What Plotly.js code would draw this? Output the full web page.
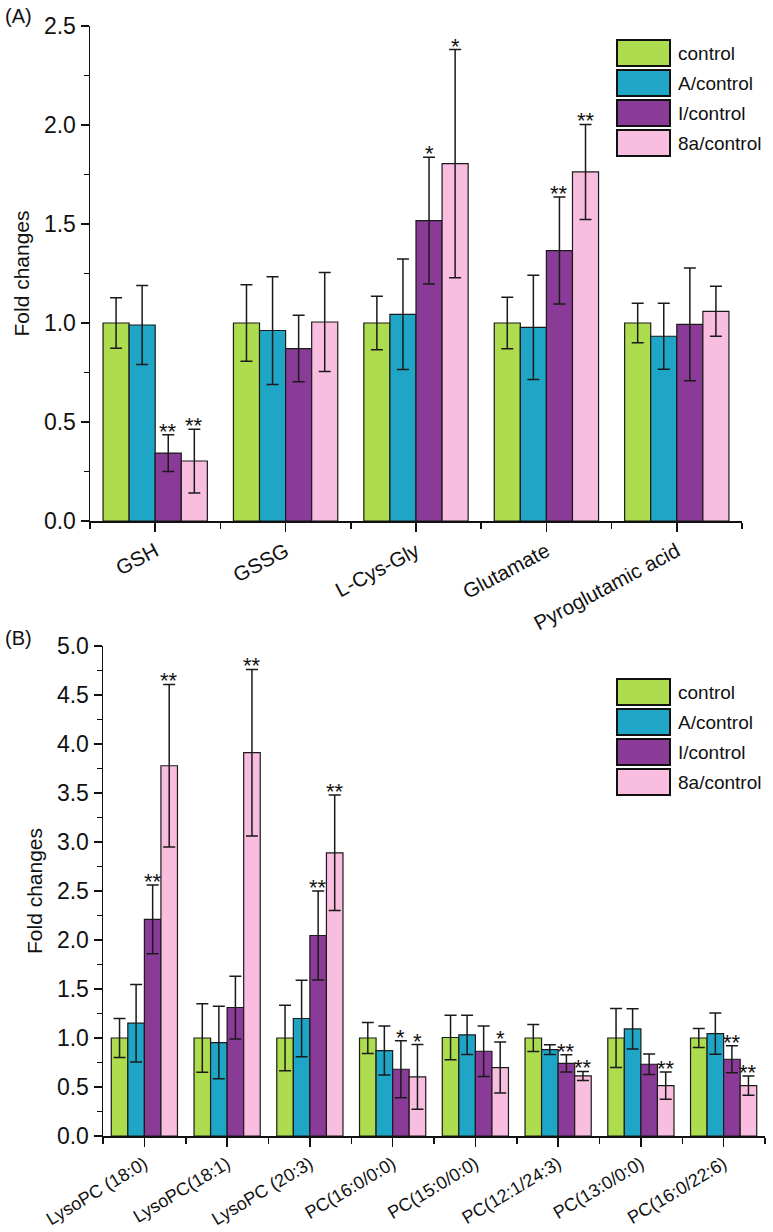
<!DOCTYPE html>
<html>
<head>
<meta charset="utf-8">
<script src="https://cdn.plot.ly/plotly-3.0.1.min.js"></script>
<style>html,body{margin:0;padding:0;background:#fff;}#chart{width:773px;height:1232px;}</style>
</head>
<body>
<div id="chart"></div>
<script>
// ---------- DATA ----------
const seriesNames = ['control', 'A/control', 'I/control', '8a/control'];
const seriesColors = ['#aedc4f', '#1fa6c6', '#8a3a97', '#f9bedf'];

const categoriesA = ['GSH', 'GSSG', 'L-Cys-Gly', 'Glutamate', 'Pyroglutamic acid'];
const controlA = [1.0, 1.0, 1.0, 1.0, 1.0];
const controlAErr = [0.127, 0.193, 0.135, 0.13, 0.1];
const aControlA = [0.99, 0.962, 1.044, 0.978, 0.933];
const aControlAErr = [0.2, 0.272, 0.279, 0.263, 0.167];
const iControlA = [0.343, 0.871, 1.517, 1.366, 0.993];
const iControlAErr = [0.093, 0.168, 0.32, 0.27, 0.285];
const e8aControlA = [0.303, 1.005, 1.805, 1.763, 1.059];
const e8aControlAErr = [0.161, 0.25, 0.576, 0.24, 0.126];
const starsIA = ['**', '', '*', '**', ''];
const stars8aA = ['**', '', '*', '**', ''];

const categoriesB = ['LysoPC (18:0)', 'LysoPC(18:1)', 'LysoPC (20:3)', 'PC(16:0/0:0)', 'PC(15:0/0:0)', 'PC(12:1/24:3)', 'PC(13:0/0:0)', 'PC(16:0/22:6)'];
const controlB = [1.0, 1.0, 1.0, 1.0, 1.005, 1.0, 1.0, 1.0];
const controlBErr = [0.2, 0.35, 0.335, 0.157, 0.228, 0.138, 0.3, 0.097];
const aControlB = [1.151, 0.953, 1.199, 0.872, 1.031, 0.882, 1.093, 1.045];
const aControlBErr = [0.395, 0.37, 0.39, 0.25, 0.2, 0.05, 0.206, 0.21];
const iControlB = [2.21, 1.311, 2.046, 0.681, 0.865, 0.742, 0.732, 0.783];
const iControlBErr = [0.35, 0.32, 0.455, 0.29, 0.257, 0.088, 0.105, 0.138];
const e8aControlB = [3.778, 3.911, 2.89, 0.603, 0.698, 0.613, 0.514, 0.514];
const e8aControlBErr = [0.83, 0.85, 0.59, 0.33, 0.26, 0.046, 0.14, 0.097];
const starsIB = ['**', '', '**', '*', '', '**', '', '**'];
const stars8aB = ['**', '**', '**', '*', '*', '**', '**', '**'];

// ---------- BUILD ----------
const W = 773, H = 1232;
const FONT = 'Arial, "Liberation Sans", sans-serif';
const BARGAP = 0.2;

function panelTraces(cats, vals, errs, xa, ya) {
  const idx = cats.map((_, i) => i);
  return vals.map((v, k) => ({
    type: 'bar', x: idx, y: v, name: seriesNames[k], xaxis: xa, yaxis: ya,
    marker: {color: seriesColors[k], line: {color: '#1a1a1a', width: 1.2}},
    error_y: {type: 'data', array: errs[k], visible: true, color: '#1a1a1a', thickness: 1.5, width: 6},
    showlegend: false, hoverinfo: 'skip'
  }));
}

const tracesA = panelTraces(categoriesA,
  [controlA, aControlA, iControlA, e8aControlA],
  [controlAErr, aControlAErr, iControlAErr, e8aControlAErr], 'x', 'y');
const tracesB = panelTraces(categoriesB,
  [controlB, aControlB, iControlB, e8aControlB],
  [controlBErr, aControlBErr, iControlBErr, e8aControlBErr], 'x2', 'y2');

function starAnnots(stars, vals, errs, k, xref, yref) {
  const n = seriesNames.length;
  const off = (k - (n - 1) / 2) * (1 - BARGAP) / n;
  const out = [];
  stars.forEach((s, i) => {
    if (!s) return;
    out.push({x: i + off, y: vals[i] + errs[i], xref: xref, yref: yref, text: s, showarrow: false,
      xanchor: 'center', yanchor: 'bottom', yshift: -11, font: {family: FONT, size: 22, color: '#111'}});
  });
  return out;
}

const annotations = [].concat(
  starAnnots(starsIA, iControlA, iControlAErr, 2, 'x', 'y'),
  starAnnots(stars8aA, e8aControlA, e8aControlAErr, 3, 'x', 'y'),
  starAnnots(starsIB, iControlB, iControlBErr, 2, 'x2', 'y2'),
  starAnnots(stars8aB, e8aControlB, e8aControlBErr, 3, 'x2', 'y2')
);

// panel labels
annotations.push({x: 3 / W, y: 1 - 3 / H, xref: 'paper', yref: 'paper', text: '(A)', showarrow: false,
  xanchor: 'left', yanchor: 'top', font: {family: FONT, size: 20, color: '#111'}});
annotations.push({x: 3 / W, y: 1 - 625 / H, xref: 'paper', yref: 'paper', text: '(B)', showarrow: false,
  xanchor: 'left', yanchor: 'top', font: {family: FONT, size: 20, color: '#111'}});

// custom legends
const shapes = [];
function addLegend(topPx) {
  seriesNames.forEach((nm, k) => {
    const y0 = topPx + k * 30, y1 = y0 + 26;
    shapes.push({type: 'rect', xref: 'paper', yref: 'paper', x0: 617 / W, x1: 670 / W,
      y0: 1 - y1 / H, y1: 1 - y0 / H, fillcolor: seriesColors[k], line: {color: '#111', width: 2}});
    annotations.push({x: 676 / W, y: 1 - (y0 + 13) / H, xref: 'paper', yref: 'paper', text: nm,
      showarrow: false, xanchor: 'left', yanchor: 'middle', font: {family: FONT, size: 19, color: '#111'}});
  });
}
addLegend(40);
addLegend(679);

function xAxis(cats, domain, anchor, angle, fsize) {
  const idx = cats.map((_, i) => i);
  const bounds = [];
  for (let i = 0; i <= cats.length; i++) bounds.push(i - 0.5);
  return {
    domain: domain, anchor: anchor, range: [-0.5, cats.length - 0.5],
    tickmode: 'array', tickvals: idx, ticktext: cats, tickangle: angle,
    ticks: 'outside', ticklen: 9, tickwidth: 1.5, tickcolor: '#111',
    minor: {tickmode: 'array', tickvals: bounds, ticks: 'outside', ticklen: 6, tickwidth: 1.5, tickcolor: '#111'},
    showline: true, linecolor: '#111', linewidth: 1.5, showgrid: false, zeroline: false,
    tickfont: {family: FONT, size: fsize, color: '#111'}, fixedrange: true
  };
}
function yAxis(range, dtick, domain, anchor) {
  return {
    domain: domain, anchor: anchor, range: range, dtick: dtick, tickformat: '.1f',
    ticks: 'outside', ticklen: 8, tickwidth: 1.5, tickcolor: '#111',
    minor: {dtick: dtick / 2, ticks: 'outside', ticklen: 5, tickwidth: 1.5, tickcolor: '#111'},
    showline: true, linecolor: '#111', linewidth: 1.5, showgrid: false, zeroline: false,
    tickfont: {family: FONT, size: 23, color: '#111'},
    title: {text: 'Fold changes', font: {family: FONT, size: 21, color: '#111'}, standoff: 8},
    fixedrange: true
  };
}

const layout = {
  width: W, height: H, margin: {l: 0, r: 0, t: 0, b: 0},
  paper_bgcolor: '#fff', plot_bgcolor: '#fff',
  barmode: 'group', bargap: BARGAP, bargroupgap: 0,
  xaxis: xAxis(categoriesA, [90 / W, 742 / W], 'y', -28, 20.5),
  yaxis: yAxis([0, 2.5], 0.5, [1 - 521 / H, 1 - 26 / H], 'x'),
  xaxis2: xAxis(categoriesB, [103 / W, 765 / W], 'y2', -31, 18),
  yaxis2: yAxis([0, 5], 0.5, [1 - 1136 / H, 1 - 646 / H], 'x2'),
  annotations: annotations, shapes: shapes, showlegend: false
};

Plotly.newPlot('chart', tracesA.concat(tracesB), layout, {staticPlot: true, displayModeBar: false});
</script>
</body>
</html>
